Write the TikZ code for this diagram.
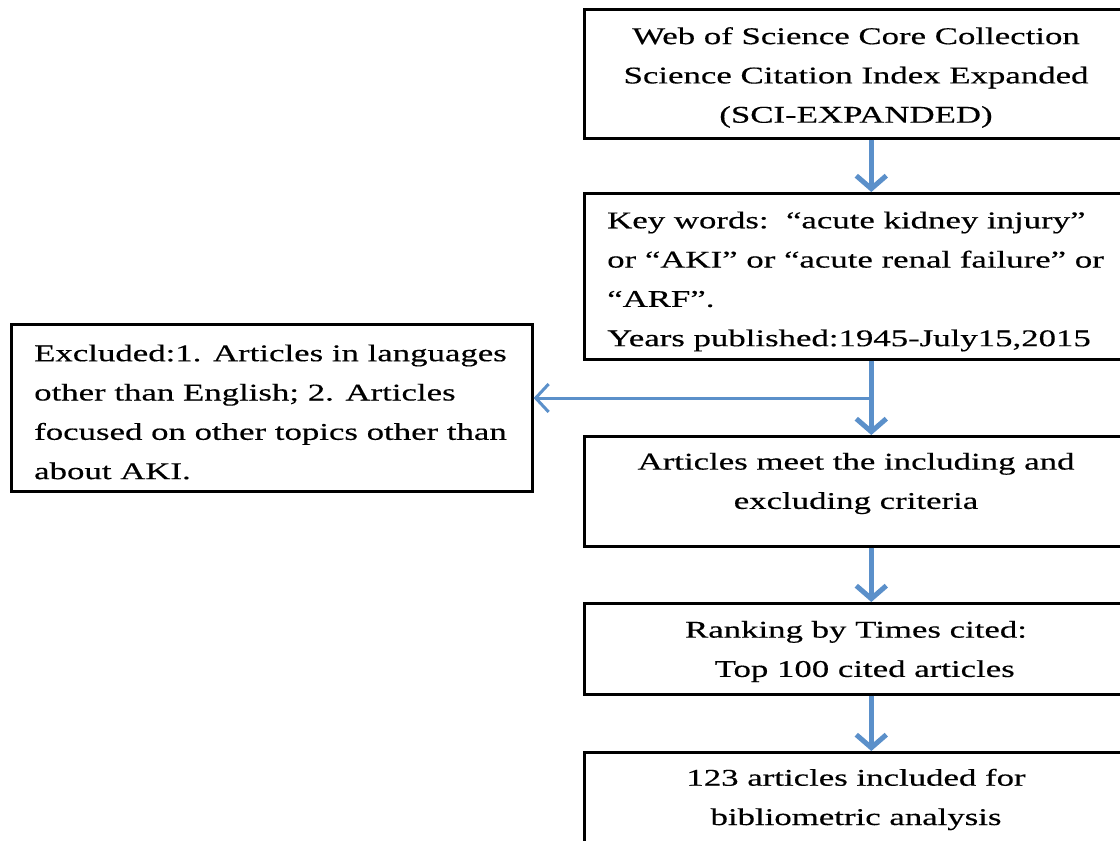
\documentclass[tikz,border=0pt]{standalone}
\usepackage{fontspec}
\setmainfont[FakeStretch=1.45,FakeBold=0.4]{Liberation Serif}
\usetikzlibrary{arrows.meta}
\definecolor{arrowblue}{RGB}{91,144,202}
\tikzset{
  box/.style={draw=black, line width=2.6pt, anchor=north west, inner sep=0pt},
  txt/.style={inner sep=0pt, font=\fontsize{24}{39.3}\selectfont},
  arr/.style={draw=arrowblue, line width=5pt, -{Straight Barb[length=13pt,width=30pt]}},
  arrthin/.style={draw=arrowblue, line width=3pt, -{Straight Barb[length=13pt,width=28pt]}}
}
\begin{document}
\begin{tikzpicture}[x=1pt,y=-1pt]
\useasboundingbox (0,0) rectangle (1120,841);
\clip (0,0) rectangle (1120,841);
\node[box, minimum width=546pt, minimum height=129pt] (b1) at (583,8) {};
\node[box, minimum width=546pt, minimum height=166pt] (b2) at (583,192) {};
\node[box, minimum width=521pt, minimum height=167pt] (ex) at (10,323) {};
\node[box, minimum width=546pt, minimum height=110pt] (b3) at (583,435) {};
\node[box, minimum width=546pt, minimum height=91pt] (b4) at (583,602) {};
\node[box, minimum width=546pt, minimum height=110pt] (b5) at (583,751) {};
\node[txt, align=center] (t1) at (856,77.5)
  {Web of Science Core Collection\\Science Citation Index Expanded\\(SCI-EXPANDED)};
\node[txt, align=left, anchor=west] (t2) at (607,281.5)
  {Key words:\ \ “acute kidney injury”\\or “AKI” or “acute renal failure” or\\“ARF”.\\Years published:1945-July15,2015};
\node[txt, align=left, anchor=west] (tx) at (34,412)
  {Excluded:1. Articles in languages\\other than English; 2. Articles\\focused on other topics other than\\about AKI.};
\node[txt, align=center] (t3) at (856,483.5)
  {Articles meet the including and\\excluding criteria};
\node[txt, align=center] (t4) at (856,651.5)
  {Ranking by Times cited:\\\ \ Top 100 cited articles};
\node[txt, align=center] (t5) at (856,799.5)
  {123 articles included for\\bibliometric analysis};
\draw[arr] ([xshift=14pt]b1.south) -- ([xshift=14pt]b2.north);
\draw[arr] ([xshift=14pt]b2.south) -- ([xshift=14pt]b3.north);
\draw[arr] ([xshift=14pt]b3.south) -- ([xshift=14pt]b4.north);
\draw[arr] ([xshift=14pt]b4.south) -- ([xshift=14pt]b5.north);
\coordinate (j) at (870,398);
\draw[arrthin] (j) -- (j -| ex.east);
\end{tikzpicture}
\end{document}
